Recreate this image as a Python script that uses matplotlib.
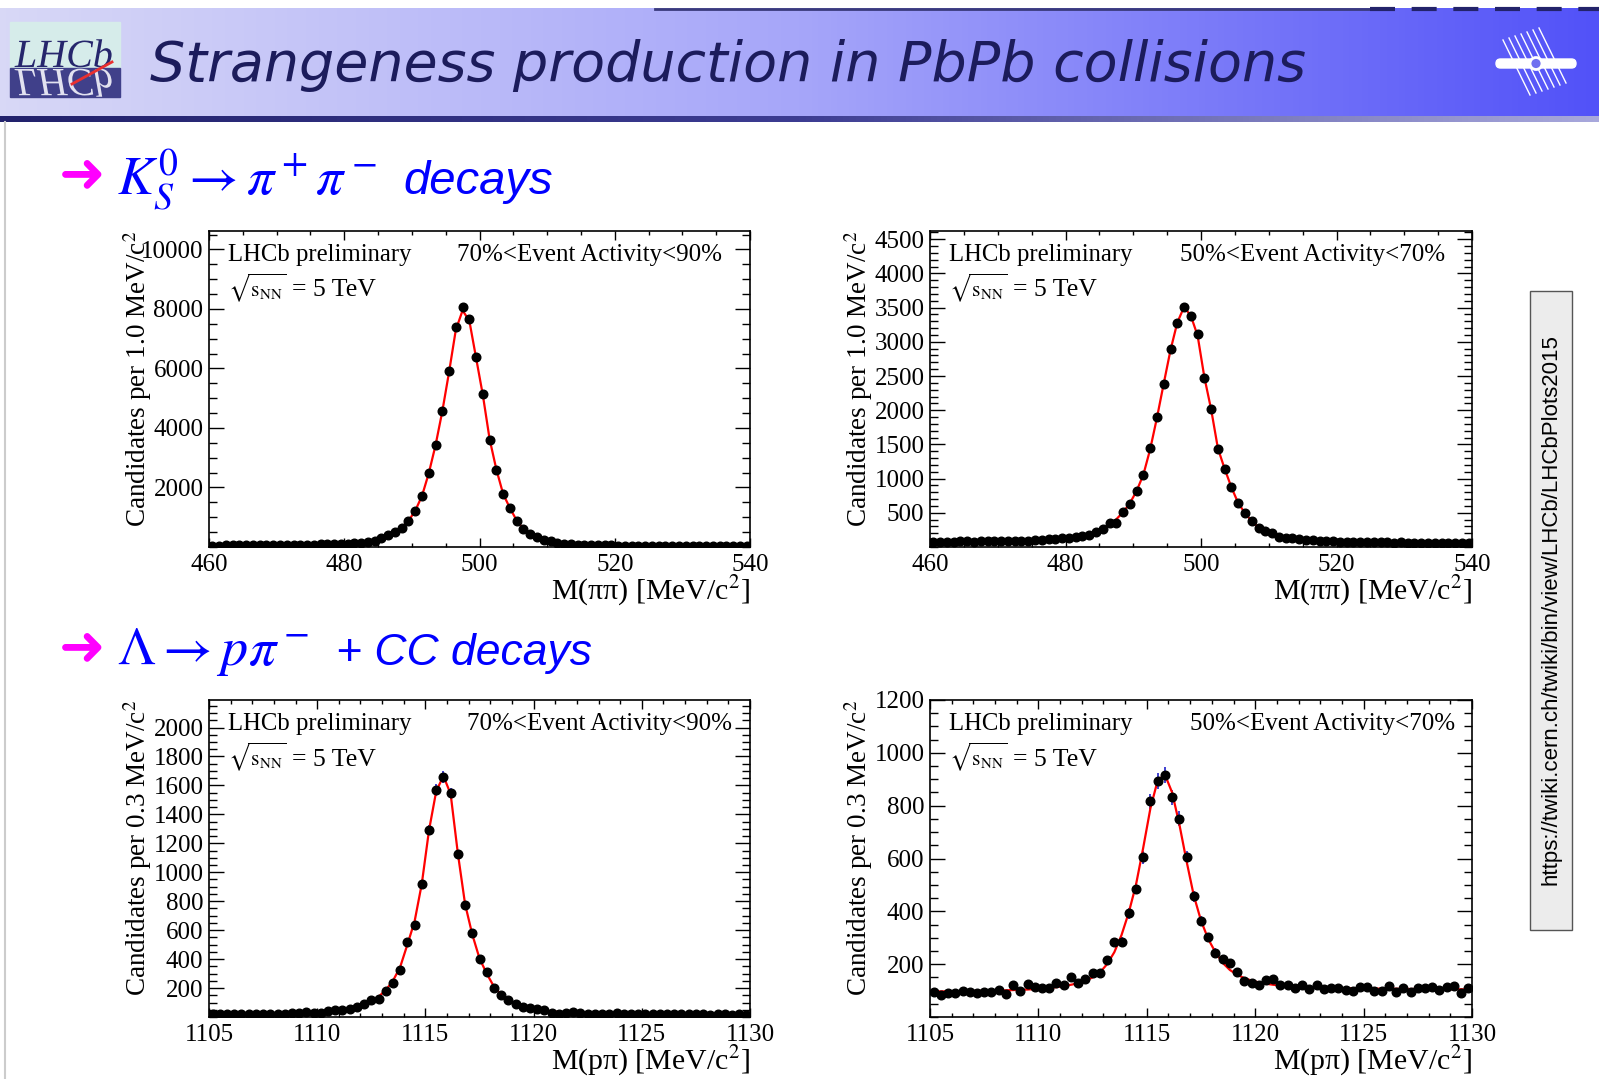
import numpy as np
import matplotlib
matplotlib.use('Agg')
import matplotlib.pyplot as plt
from matplotlib.colors import LinearSegmentedColormap
from matplotlib.patches import Rectangle, FancyBboxPatch, Circle, PathPatch
from matplotlib.ticker import MultipleLocator, FixedLocator
from matplotlib.textpath import TextPath
from matplotlib.font_manager import FontProperties
from matplotlib.transforms import Affine2D

plt.rcParams['mathtext.fontset'] = 'stix'
plt.rcParams['font.family'] = ['Liberation Serif', 'DejaVu Sans']

W, H = 1599, 1079

# --- K0s -> pi pi, 1 MeV bins from 460 to 540 ---
k_edges = (460.0, 540.0)
k_width = 1.0
ks_7090 = [48, 50, 52, 53, 55, 57, 58, 60, 62, 64, 67, 70, 73, 76, 80, 84, 88, 93, 99, 106,
           114, 124, 146, 172, 215, 290, 415, 505, 640, 865, 1213, 1719, 2494, 3427, 4573, 5899, 7382, 8050, 7650, 6370,
           5130, 3600, 2600, 1770, 1320, 890, 610, 440, 325, 240, 190, 140, 105, 90, 80, 72, 66, 60, 56, 52,
           50, 48, 46, 44, 43, 42, 40, 39, 38, 37, 36, 35, 35, 34, 33, 33, 32, 32, 31, 30]
ks_7090_fit = [48, 50, 52, 53, 55, 57, 58, 60, 62, 64, 67, 70, 73, 76, 80, 84, 88, 93, 99, 106,
               114, 126, 145, 172, 212, 285, 390, 505, 655, 880, 1220, 1720, 2480, 3420, 4560, 5880, 7300, 7950, 7600, 6350,
               5100, 3620, 2600, 1780, 1310, 890, 610, 440, 325, 240, 185, 140, 108, 90, 80, 72, 66, 60, 56, 52,
               50, 48, 46, 44, 43, 42, 40, 39, 38, 37, 36, 35, 35, 34, 33, 33, 32, 32, 31, 30]
ks_5070 = [78, 75, 80, 72, 82, 85, 79, 83, 86, 81, 90, 87, 92, 95, 93, 100, 104, 110, 115, 125,
           133, 152, 167, 176, 214, 262, 345, 348, 510, 622, 815, 1051, 1446, 1900, 2388, 2890, 3276, 3515, 3373, 3110,
           2476, 2022, 1427, 1144, 880, 637, 500, 373, 275, 240, 205, 152, 138, 129, 114, 108, 100, 95, 90, 84,
           80, 76, 73, 75, 70, 68, 72, 66, 64, 67, 63, 65, 62, 60, 64, 61, 59, 62, 58, 60]
ks_5070_fit = [75, 76, 77, 78, 79, 80, 81, 82, 83, 84, 86, 88, 90, 92, 95, 98, 102, 107, 113, 121,
               132, 146, 164, 188, 220, 265, 325, 405, 510, 640, 820, 1060, 1430, 1890, 2390, 2880, 3280, 3510, 3380, 3090,
               2480, 2010, 1440, 1140, 870, 640, 495, 375, 285, 230, 190, 160, 138, 124, 112, 104, 97, 91, 87, 83,
               80, 77, 75, 73, 71, 70, 69, 68, 67, 66, 65, 64, 63, 63, 62, 62, 61, 61, 60, 60]

# --- Lambda -> p pi, 1/3 MeV bins from 1105 to 1130 ---
l_edges = (1105.0, 1130.0)
l_width = 1.0 / 3.0
lam_7090 = [18, 18, 18, 22, 18, 22, 18, 18, 20, 20, 22, 29, 27, 34, 29, 27, 41, 45, 45, 57,
            68, 91, 115, 126, 182, 237, 327, 516, 639, 918, 1292, 1569, 1657, 1546, 1123, 773, 581, 401, 311, 200,
            154, 119, 92, 70, 62, 55, 48, 30, 22, 25, 35, 28, 20, 22, 24, 20, 26, 22, 18, 24,
            22, 18, 20, 22, 18, 20, 24, 18, 20, 16, 18, 20, 16, 18, 16]
lam_7090_fit = [16, 16, 17, 17, 18, 18, 19, 19, 20, 21, 22, 23, 24, 26, 28, 30, 33, 37, 42, 50,
                62, 80, 105, 140, 185, 250, 345, 500, 660, 920, 1290, 1560, 1665, 1540, 1130, 780, 570, 405, 300, 210,
                155, 118, 92, 74, 61, 51, 44, 39, 35, 32, 30, 28, 26, 25, 24, 23, 22, 21, 21, 20,
                20, 19, 19, 19, 18, 18, 18, 18, 17, 17, 17, 17, 17, 16, 16]
lam_5070 = [96, 83, 92, 92, 99, 96, 90, 93, 96, 102, 86, 123, 99, 125, 114, 111, 110, 128, 123, 150,
            130, 144, 166, 168, 216, 284, 285, 392, 486, 604, 816, 892, 915, 831, 751, 604, 457, 365, 302, 244,
            219, 204, 172, 137, 130, 121, 140, 145, 121, 121, 109, 120, 106, 123, 105, 109, 111, 102, 99, 115,
            112, 99, 99, 117, 93, 111, 96, 111, 111, 115, 102, 115, 119, 90, 109]
lam_5070_fit = [97, 97, 97, 98, 98, 98, 99, 99, 100, 100, 101, 102, 103, 104, 106, 108, 110, 113, 117, 122,
                128, 137, 150, 168, 200, 245, 310, 395, 500, 640, 790, 895, 918, 850, 730, 590, 460, 365, 295, 245,
                205, 178, 160, 147, 138, 131, 126, 122, 119, 117, 115, 114, 113, 112, 111, 110, 110, 109, 109, 108,
                108, 108, 107, 107, 107, 106, 106, 106, 106, 105, 105, 105, 105, 105, 104]

k_centres = np.arange(k_edges[0] + k_width / 2, k_edges[1], k_width)
l_centres = l_edges[0] + (np.arange(len(lam_7090)) + 0.5) * l_width

fig = plt.figure(figsize=(W / 100, H / 100), dpi=100)
bg = fig.add_axes([0, 0, 1, 1], zorder=0)

# header band
band = LinearSegmentedColormap.from_list('band', ['#d8d8f6', '#a6a6fa', '#5252f8'])
bg.imshow(np.linspace(0, 1, 256)[None, :], extent=[0, W, 117, 8], cmap=band, aspect='auto', zorder=1)
under = LinearSegmentedColormap.from_list('under', ['#22226c', '#3c3c92', '#a8a8dc'])
bg.imshow(np.linspace(0, 1, 256)[None, :], extent=[0, W, 122, 116], cmap=under, aspect='auto', zorder=1)
bg.plot([655, 1370], [9, 9], color='#3a3a7c', lw=2, zorder=2)
bg.plot([1370, W], [9, 9], color='#23236a', lw=3, dashes=(6, 4), zorder=2)

# LHCb logo
bg.add_patch(Rectangle((10, 22), 110, 46, color='#d6ecea', zorder=2))
bg.add_patch(Rectangle((10, 68), 110, 29, color='#40408a', zorder=2))
tp = TextPath((0, 0), 'LHCb', size=1, prop=FontProperties(family='Liberation Serif', style='italic'))
bg.add_patch(PathPatch(Affine2D().scale(40, -40).translate(15, 67).transform_path(tp),
                       color='#26266c', lw=0, zorder=3))
bg.add_patch(PathPatch(Affine2D().scale(40, 40).translate(15, 69).transform_path(tp),
                       color='#e2e2f0', lw=0, zorder=3))
bg.plot([72, 112], [84, 62], color='#e83030', lw=2, zorder=4)

bg.text(150, 65, 'Strangeness production in PbPb collisions', family='DejaVu Sans',
        style='italic', fontsize=40, color='#1c1c5c', va='center', ha='left', zorder=3)

# right logo
for k in range(7):
    bg.plot([1503 + 6 * k, 1530 + 6 * k], [40 - 2 * k, 95 - 2 * k], color='white', lw=1, zorder=3)
bg.add_patch(FancyBboxPatch((1496, 59), 80, 9, boxstyle='round,pad=0,rounding_size=4.5',
                            color='white', zorder=4))
bg.add_patch(Circle((1536, 63.5), 6, facecolor='#7070f0', edgecolor='white', lw=2, zorder=5))

bg.plot([5, 5], [122, H], color='#cccccc', lw=1.5, zorder=1)

# URL box
bg.add_patch(Rectangle((1530, 291), 42, 639, facecolor='#ececec', edgecolor='#555555', lw=1, zorder=2))
bg.text(1551, 610, 'https://twiki.cern.ch/twiki/bin/view/LHCb/LHCbPlots2015', family='Liberation Sans',
        fontsize=16, rotation=90, ha='center', va='center', zorder=3)

# section headers
blue = '#0000ff'
for y_arrow, y_base, formula, msize, x_words, words, wsize in [
        (177, 194, r'$K_S^0 \rightarrow \pi^+\pi^-$', 39, 403, 'decays', 34),
        (650, 665, r'$\Lambda \rightarrow p\pi^-$', 39, 336, '+ CC decays', 32)]:
    bg.text(59, y_arrow, '\u279c', family='DejaVu Sans', fontsize=40, weight='bold', color='#ff00ff',
            ha='left', va='center', zorder=3)
    bg.text(117, y_base, formula, fontsize=msize, color=blue, ha='left', va='baseline', zorder=3)
    bg.text(x_words, y_base, words, family='Liberation Sans', style='italic', fontsize=wsize,
            color=blue, ha='left', va='baseline', zorder=3)

bg.set_xlim(0, W)
bg.set_ylim(H, 0)
bg.axis('off')


def draw_panel(box, x, counts, fit, xlim, ylim, ymajor, yminor, xmajor, xminor,
               ylabel, xlabel, activity, act_x):
    left, top, right, bottom = box
    ax = fig.add_axes([left / W, 1 - bottom / H, (right - left) / W, (bottom - top) / H], zorder=2)
    counts = np.array(counts)
    ax.errorbar(x, counts, yerr=np.sqrt(counts), fmt='none', ecolor='#2020c8', elinewidth=1.2, zorder=2)
    ax.plot(x, fit, color='red', lw=1.6, zorder=3)
    ax.plot(x, counts, 'o', color='black', ms=6.2, zorder=4)
    ax.set_xlim(*xlim)
    ax.set_ylim(*ylim)
    ax.yaxis.set_major_locator(FixedLocator(ymajor))
    ax.yaxis.set_minor_locator(MultipleLocator(yminor))
    ax.xaxis.set_major_locator(MultipleLocator(xmajor))
    ax.xaxis.set_minor_locator(MultipleLocator(xminor))
    ax.tick_params(which='both', direction='in', top=True, right=True, labelsize=18, width=1)
    ax.tick_params(axis='y', which='major', length=11, pad=4)
    ax.tick_params(axis='y', which='minor', length=5.5)
    ax.tick_params(axis='x', which='major', length=6.5, pad=5)
    ax.tick_params(axis='x', which='minor', length=3.2)
    for s in ax.spines.values():
        s.set_linewidth(1.2)
    ax.text(-0.132, 1.0, ylabel, transform=ax.transAxes, rotation=90, ha='center', va='top', fontsize=19.5)
    ax.text(1.0, -0.14, xlabel, transform=ax.transAxes, ha='right', va='center', fontsize=21.5)
    ax.text(0.035, 0.924, 'LHCb preliminary', transform=ax.transAxes, ha='left', va='center', fontsize=17.8)
    root = ax.text(0.035, 0.82, r'$\sqrt{\mathrm{s}_{\mathrm{NN}}}$', transform=ax.transAxes,
                   ha='left', va='center', fontsize=15.5)
    ax.annotate('= 5 TeV', xy=(1.0, 0.42), xycoords=root, xytext=(4, 0), textcoords='offset points',
                ha='left', va='center', fontsize=18.5)
    ax.text(act_x, 0.924, activity, transform=ax.transAxes, ha='right', va='center', fontsize=18)
    return ax


k_ylab = 'Candidates per 1.0 MeV/c$^{2}$'
l_ylab = 'Candidates per 0.3 MeV/c$^{2}$'
k_xlab = 'M(\u03c0\u03c0) [MeV/c$^{2}$]'
l_xlab = 'M(p\u03c0) [MeV/c$^{2}$]'

draw_panel((209, 231, 750, 547), k_centres, ks_7090, ks_7090_fit, k_edges, (0, 10620),
           range(2000, 10001, 2000), 500, 20, 5, k_ylab, k_xlab, '70%<Event Activity<90%', 0.948)
draw_panel((930, 231, 1472, 547), k_centres, ks_5070, ks_5070_fit, k_edges, (0, 4620),
           range(500, 4501, 500), 100, 20, 5, k_ylab, k_xlab, '50%<Event Activity<70%', 0.95)
draw_panel((209, 700, 750, 1017), l_centres, lam_7090, lam_7090_fit, l_edges, (0, 2190),
           range(200, 2001, 200), 50, 5, 1, l_ylab, l_xlab, '70%<Event Activity<90%', 0.967)
draw_panel((930, 700, 1472, 1017), l_centres, lam_5070, lam_5070_fit, l_edges, (0, 1200),
           range(200, 1201, 200), 50, 5, 1, l_ylab, l_xlab, '50%<Event Activity<70%', 0.969)

fig.savefig('out.png', dpi=100)
